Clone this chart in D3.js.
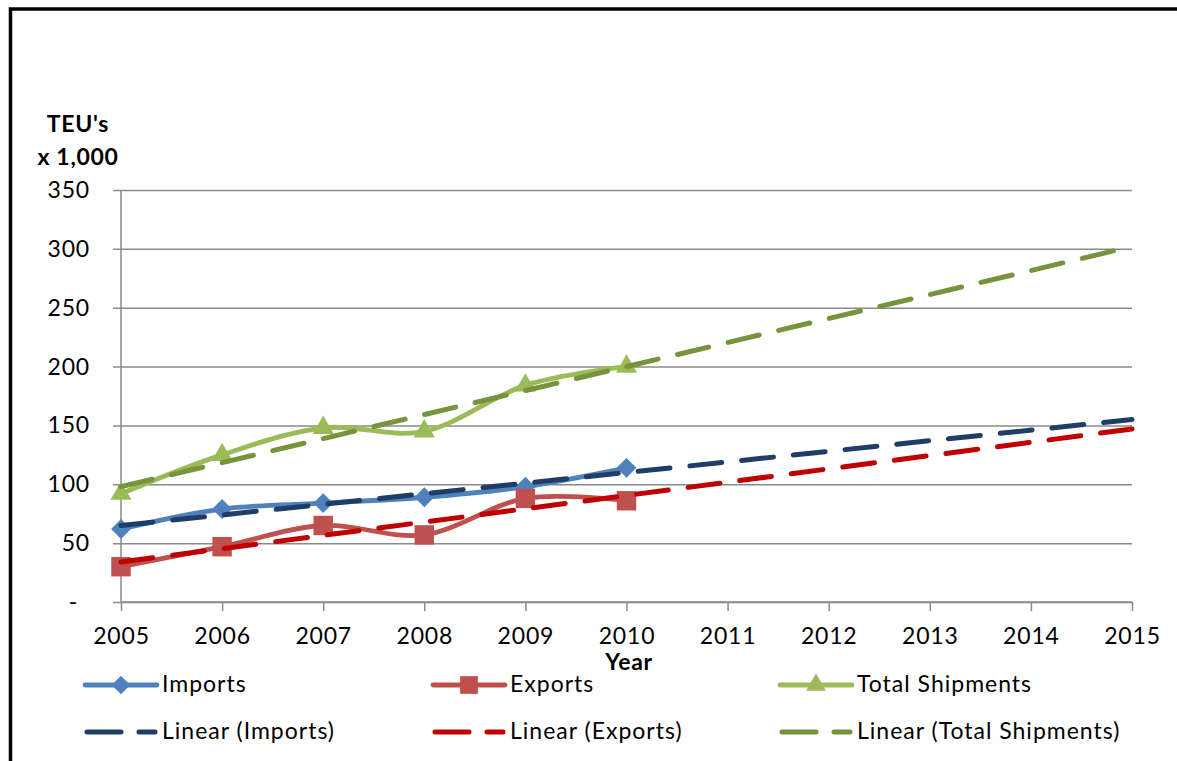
<!DOCTYPE html>
<html>
<head>
<meta charset="utf-8">
<script src="https://cdn.jsdelivr.net/npm/d3@7"></script>
<style>
  html, body { margin: 0; padding: 0; background: #fff; }
  svg { display: block; }
  text { font-family: Lato, "Open Sans", sans-serif; fill: #000; }
</style>
</head>
<body>
<svg id="chart" width="1177" height="761"></svg>
<script>
// Container throughput, TEU's x 1,000
const years = [2005, 2006, 2007, 2008, 2009, 2010];
const imports = [62, 79, 84, 89, 98, 114];
const exports = [30, 47, 65, 57, 88, 86];
const totalShipments = [92, 125, 148, 145, 184, 200];

// Linear trend lines, start and end values (2005 and 2015)
const trendYears = [2005, 2015];
const trendImports = [65, 155];
const trendExports = [34, 147];
const trendTotal = [98, 302];

const xTicks = [2005, 2006, 2007, 2008, 2009, 2010, 2011, 2012, 2013, 2014, 2015];
const yTicks = [0, 50, 100, 150, 200, 250, 300, 350];

const svg = d3.select("#chart");

// Outer frame
svg.append("rect")
  .attr("x", 10.5).attr("y", 9)
  .attr("width", 1300).attr("height", 900)
  .attr("fill", "none").attr("stroke", "#000").attr("stroke-width", 3.5);

const x = d3.scaleLinear().domain([2005, 2015]).range([121, 1132]);
const y = d3.scaleLinear().domain([0, 350]).range([602, 190]);

const gridColor = "#8a8a8a";
const labelSize = 23;
const labelSpacing = 0.8;

// Horizontal gridlines with ticks
const yAxis = d3.axisLeft(y)
  .tickValues(yTicks)
  .tickSize(-(1132 - 121))
  .tickFormat(() => "");
const gy = svg.append("g").attr("transform", "translate(121,0)").call(yAxis);
gy.select(".domain").remove();
gy.selectAll(".tick line").attr("stroke", gridColor).attr("stroke-width", 1.5)
  .attr("x1", -8);

// Y tick labels
svg.append("g").selectAll("text")
  .data(yTicks).join("text")
  .attr("x", d => d === 0 ? 78 : 90)
  .attr("y", d => y(d) + 8)
  .attr("text-anchor", "end")
  .attr("font-size", labelSize)
  .attr("letter-spacing", labelSpacing)
  .text(d => d === 0 ? "-" : d3.format(",")(d));

// Y axis line
svg.append("line")
  .attr("x1", 121).attr("x2", 121).attr("y1", 190).attr("y2", 602)
  .attr("stroke", gridColor).attr("stroke-width", 1.5);

// X axis
const xAxis = d3.axisBottom(x).tickValues(xTicks).tickSize(9).tickFormat(d3.format("d"));
const gx = svg.append("g").attr("transform", "translate(0,602)").call(xAxis);
gx.select(".domain").attr("stroke", gridColor).attr("stroke-width", 1.5).attr("d", "M121,0H1132");
gx.selectAll(".tick line").attr("stroke", gridColor).attr("stroke-width", 1.5);
gx.selectAll(".tick text")
  .attr("y", 0).attr("dy", null)
  .attr("transform", "translate(0,42)")
  .attr("font-size", labelSize)
  .attr("letter-spacing", labelSpacing)
  .attr("font-family", "Lato, 'Open Sans', sans-serif")
  .attr("fill", "#000");

// Axis titles
const title = (tx, ty, str) => svg.append("text")
  .attr("x", tx).attr("y", ty).attr("text-anchor", "middle")
  .attr("font-size", 23).attr("font-weight", "bold").attr("letter-spacing", 0.7)
  .text(str);
title(78, 132, "TEU's");
title(78, 165, "x 1,000");
title(629, 670, "Year");

const dash = "32,20";

const series = [
  { name: "Imports", values: imports, color: "#4F81BD", marker: "diamond" },
  { name: "Exports", values: exports, color: "#C0504D", marker: "square" },
  { name: "Total Shipments", values: totalShipments, color: "#9BBB59", marker: "triangle" }
];
const trends = [
  { name: "Linear (Imports)", values: trendImports, color: "#1F3D66" },
  { name: "Linear (Exports)", values: trendExports, color: "#C00000" },
  { name: "Linear (Total Shipments)", values: trendTotal, color: "#77933C" }
];

const smooth = d3.line()
  .x(d => x(d[0])).y(d => y(d[1]))
  .curve(d3.curveCatmullRom.alpha(0));
const straight = d3.line().x(d => x(d[0])).y(d => y(d[1]));

const symbolFor = {
  diamond: d3.symbol().type(d3.symbolDiamond2).size(250),
  square: d3.symbol().type(d3.symbolSquare2).size(480),
  triangle: d3.symbol().type(d3.symbolTriangle2).size(320)
};
const legendSymbolFor = {
  diamond: d3.symbol().type(d3.symbolDiamond2).size(220),
  square: d3.symbol().type(d3.symbolSquare2).size(400),
  triangle: d3.symbol().type(d3.symbolTriangle2).size(280)
};

const plot = svg.append("g");

// Data lines and markers
series.forEach(s => {
  const pts = years.map((yr, i) => [yr, s.values[i]]);
  plot.append("path")
    .attr("d", smooth(pts))
    .attr("fill", "none").attr("stroke", s.color)
    .attr("stroke-width", 4.8).attr("stroke-linecap", "round").attr("stroke-linejoin", "round");
  plot.append("g").selectAll("path")
    .data(pts).join("path")
    .attr("transform", d => `translate(${x(d[0])},${y(d[1])})`)
    .attr("d", symbolFor[s.marker]())
    .attr("fill", s.color);
});

// Trend lines on top
trends.forEach(t => {
  const pts = trendYears.map((yr, i) => [yr, t.values[i]]);
  plot.append("path")
    .attr("d", straight(pts))
    .attr("fill", "none").attr("stroke", t.color)
    .attr("stroke-width", 5).attr("stroke-dasharray", dash)
    .attr("stroke-linecap", "round");
});

// Legend
const legendCols = [85, 433, 780];
const legendRows = [685, 732];
const sampleW = 72;

series.forEach((s, i) => {
  const lx = legendCols[i], ly = legendRows[0];
  svg.append("line")
    .attr("x1", lx).attr("x2", lx + sampleW).attr("y1", ly).attr("y2", ly)
    .attr("stroke", s.color).attr("stroke-width", 4.8).attr("stroke-linecap", "round");
  svg.append("path")
    .attr("transform", `translate(${lx + sampleW / 2},${ly})`)
    .attr("d", legendSymbolFor[s.marker]())
    .attr("fill", s.color);
  svg.append("text").attr("x", lx + sampleW + 5).attr("y", ly + 7)
    .attr("font-size", labelSize).attr("letter-spacing", 1).text(s.name);
});

trends.forEach((t, i) => {
  const lx = legendCols[i], ly = legendRows[1];
  svg.append("line")
    .attr("x1", lx + 2).attr("x2", lx + sampleW - 2).attr("y1", ly).attr("y2", ly)
    .attr("stroke", t.color).attr("stroke-width", 5)
    .attr("stroke-dasharray", "34,18").attr("stroke-linecap", "round");
  svg.append("text").attr("x", lx + sampleW + 5).attr("y", ly + 7)
    .attr("font-size", labelSize).attr("letter-spacing", 1).text(t.name);
});
</script>
</body>
</html>
